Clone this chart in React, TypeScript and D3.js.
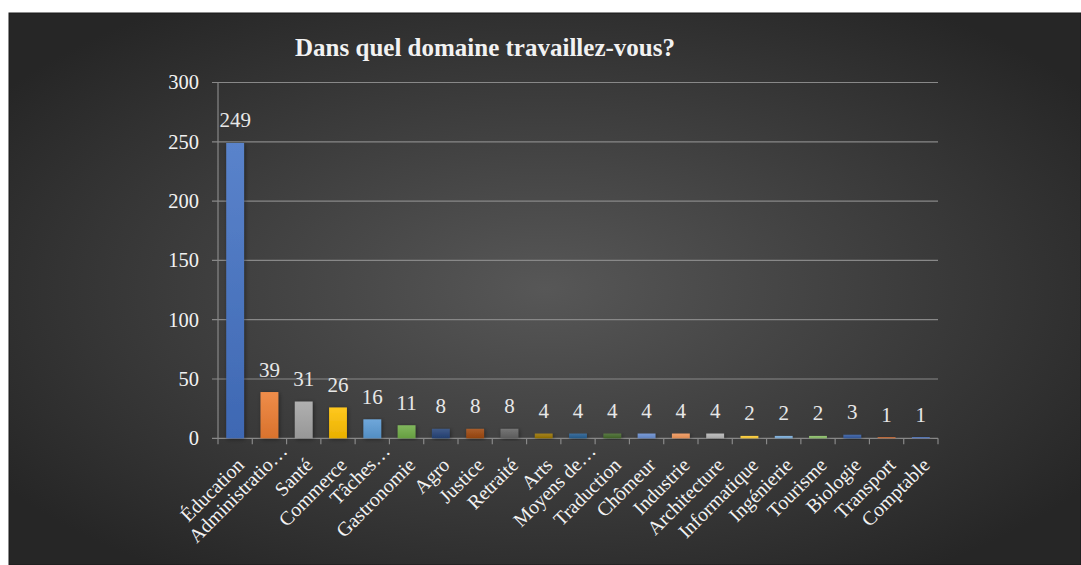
import React from "react";
import * as d3 from "d3";

const categories = [
  "Éducation", "Administratio…", "Santé", "Commerce", "Tâches…", "Gastronomie",
  "Agro", "Justice", "Retraité", "Arts", "Moyens de…", "Traduction", "Chômeur",
  "Industrie", "Architecture", "Informatique", "Ingénierie", "Tourisme",
  "Biologie", "Transport", "Comptable",
];
const values = [249, 39, 31, 26, 16, 11, 8, 8, 8, 4, 4, 4, 4, 4, 4, 2, 2, 2, 3, 1, 1];
const yTicks = [0, 50, 100, 150, 200, 250, 300];
const palette = [
  "#4472C4", "#ED7D31", "#A5A5A5", "#FFC000", "#5B9BD5", "#70AD47",
  "#264478", "#9E480E", "#636363", "#997300", "#255E91", "#43682B",
  "#698ED0", "#F1975A", "#B7B7B7", "#FFCD33", "#7CAFDD", "#8CC168",
  "#335AA1", "#C8642A", "#4A72C0",
];
const title = "Dans quel domaine travaillez-vous?";

const W = 1081, H = 565;
const plot = { left: 218, right: 938, top: 82.5, bottom: 438.3 };
const FONT = "Liberation Serif, Times New Roman, Times, DejaVu Serif, serif";

export default function App() {
  const x = d3.scaleBand<string>().domain(categories).range([plot.left, plot.right]).paddingInner(0.48).paddingOuter(0.24);
  const y = d3.scaleLinear().domain([0, 300]).range([plot.bottom, plot.top]);
  const step = x.step();
  const boundaries = d3.range(categories.length + 1).map((i) => plot.left + i * step);

  return (
    <svg width={W} height={H} style={{ position: "absolute", left: 0, top: 0, background: "#fff", fontFamily: FONT }}>
      <defs>
        <radialGradient id="bg" cx="50%" cy="50%" r="62%">
          <stop offset="0%" stopColor="#575757" />
          <stop offset="100%" stopColor="#262626" />
        </radialGradient>
        {palette.map((c, i) => {
          const top = d3.interpolateRgb(c, "#ffffff")(0.12);
          const bot = d3.color(c)!.darker(0.25).formatHex();
          return (
            <linearGradient key={i} id={`g${i}`} x1="0" y1="0" x2="0" y2="1">
              <stop offset="0%" stopColor={top} />
              <stop offset="100%" stopColor={bot} />
            </linearGradient>
          );
        })}
        <filter id="sh" x="-30%" y="-10%" width="160%" height="130%">
          <feDropShadow dx="1" dy="1" stdDeviation="2" floodColor="#000" floodOpacity="0.45" />
        </filter>
      </defs>
      <rect x={9} y={13} width={W - 9} height={H - 13} fill="url(#bg)" stroke="#1a1a1a" strokeWidth={1} />
      <text x={485} y={56} textAnchor="middle" fontWeight="bold" fontSize={25} fill="#f2f2f2">
        {title}
      </text>
      {yTicks.map((t) => (
        <g key={t}>
          <line x1={212} x2={plot.right} y1={y(t)} y2={y(t)} stroke="#888888" strokeWidth={1.2} />
          <text x={199} y={y(t)} dy="0.34em" textAnchor="end" fontSize={20.5} fill="#f2f2f2">
            {t}
          </text>
        </g>
      ))}
      <line x1={plot.left} x2={plot.left} y1={plot.top} y2={plot.bottom} stroke="#888888" strokeWidth={1.2} />
      {boundaries.map((b, i) => (
        <line key={i} x1={b} x2={b} y1={plot.bottom} y2={plot.bottom + 6} stroke="#888888" strokeWidth={1.2} />
      ))}
      {categories.map((c, i) => {
        const bx = x(c)!;
        const cx = bx + x.bandwidth() / 2;
        const v = values[i];
        const truncated = c.endsWith("…");
        const lx = cx + (truncated ? 19 : 10);
        const ly = plot.bottom + (truncated ? 14 : 28);
        return (
          <g key={c}>
            <rect x={bx} y={y(v)} width={x.bandwidth()} height={plot.bottom - y(v)} fill={`url(#g${i})`} filter="url(#sh)" />
            <text x={cx} y={y(v) - 15.5} textAnchor="middle" fontSize={21} fill="#e8e8e8">
              {v}
            </text>
            <text
              transform={`translate(${lx},${ly}) rotate(-45)`}
              textAnchor="end"
              fontSize={19.8}
              fill="#f2f2f2"
            >
              {c}
            </text>
          </g>
        );
      })}
    </svg>
  );
}
